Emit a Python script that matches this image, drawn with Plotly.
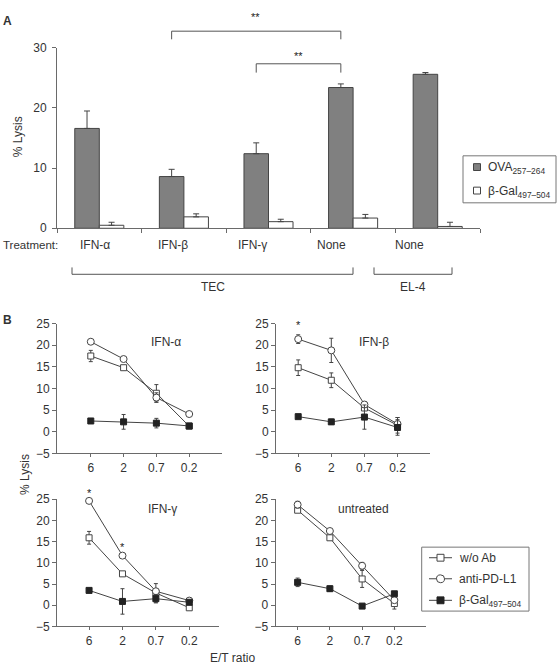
import plotly.graph_objects as go

W, H = 558, 669
FONT = "Liberation Sans, Arial, sans-serif"
TXT = "#333333"
AX = "#6a6a6a"
LN = "#444444"


def px(x):
    return x / W


def py(y):
    return 1 - y / H


# ---------------- Panel A data ----------------
treatments = ["IFN-α", "IFN-β", "IFN-γ", "None", "None"]
ova = [16.6, 8.6, 12.4, 23.4, 25.6]
ova_err = [2.9, 1.2, 1.8, 0.6, 0.3]
gal = [0.5, 1.9, 1.1, 1.7, 0.3]
gal_err = [0.5, 0.5, 0.4, 0.6, 0.7]
a_ticks = [0, 10, 20, 30]

# ---------------- Panel B data ----------------
et_ratio = ["6", "2", "0.7", "0.2"]
b_ticks = [-5, 0, 5, 10, 15, 20, 25]

ifna_woab = [17.5, 14.8, 8.9, 1.3]
ifna_woab_err = [1.3, 0.4, 2.0, 0.2]
ifna_pdl1 = [20.8, 16.8, 7.9, 4.1]
ifna_pdl1_err = [0.3, 0.4, 1.1, 0.2]
ifna_gal = [2.5, 2.3, 2.0, 1.35]
ifna_gal_err = [0.3, 1.7, 1.1, 0.2]

ifnb_woab = [14.8, 11.9, 5.5, 1.5]
ifnb_woab_err = [1.8, 1.7, 0.5, 1.8]
ifnb_pdl1 = [21.4, 18.8, 6.3, 1.8]
ifnb_pdl1_err = [1.0, 2.8, 0.6, 1.5]
ifnb_gal = [3.5, 2.3, 3.4, 1.0]
ifnb_gal_err = [0.2, 0.6, 2.8, 1.8]

ifng_woab = [15.9, 7.4, 2.9, -0.6]
ifng_woab_err = [1.5, 0.2, 2.2, 0.3]
ifng_pdl1 = [24.6, 11.7, 3.3, 1.1]
ifng_pdl1_err = [0.3, 0.3, 0.5, 0.2]
ifng_gal = [3.5, 0.9, 1.55, 0.7]
ifng_gal_err = [0.2, 3.0, 1.0, 0.3]

untr_woab = [22.4, 15.9, 6.2, 0.4]
untr_woab_err = [0.4, 0.3, 2.0, 1.3]
untr_pdl1 = [23.7, 17.5, 9.3, 1.2]
untr_pdl1_err = [0.8, 0.3, 0.8, 0.3]
untr_gal = [5.4, 3.9, -0.2, 2.7]
untr_gal_err = [1.0, 0.6, 0.3, 0.2]

panels = [
    ("IFN-α", ifna_woab, ifna_woab_err, ifna_pdl1, ifna_pdl1_err, ifna_gal, ifna_gal_err),
    ("IFN-β", ifnb_woab, ifnb_woab_err, ifnb_pdl1, ifnb_pdl1_err, ifnb_gal, ifnb_gal_err),
    ("IFN-γ", ifng_woab, ifng_woab_err, ifng_pdl1, ifng_pdl1_err, ifng_gal, ifng_gal_err),
    ("untreated", untr_woab, untr_woab_err, untr_pdl1, untr_pdl1_err, untr_gal, untr_gal_err),
]
# significance stars: (panel index, category index, value where the star sits)
stars = [(1, 0, 25.2), (2, 0, 26.9), (2, 1, 14.3)]

series_names = ["w/o Ab", "anti-PD-L1", "β-Gal<sub>497–504</sub>"]

# ---------------- geometry (pixels) ----------------
A_X = (57, 480)
A_Y = (226, 41.7)
B_GEOM = [
    ((57, 222), (456, 323.3), (-1.03, 4.0), (166, 342)),
    ((276, 430), (456, 323.3), (-0.67, 3.98), (374, 342)),
    ((57, 219), (632.7, 502.7), (-0.96, 3.89), (162, 513)),
    ((275.7, 426), (632.7, 502.7), (-0.68, 3.98), (363, 513)),
]
BARGAP = 0.42

fig = go.Figure()

tickfont = dict(family=FONT, size=12, color=TXT)

# ---------------- Panel A bars ----------------
xa = list(range(len(treatments)))
fig.add_trace(go.Bar(
    x=xa, y=ova, name="OVA", xaxis="x", yaxis="y",
    marker=dict(color="#808080", line=dict(color=LN, width=1)),
    error_y=dict(type="data", array=ova_err, arrayminus=[0] * len(ova), symmetric=False,
                 color=LN, thickness=1, width=3),
    showlegend=False,
))
fig.add_trace(go.Bar(
    x=xa, y=gal, name="β-Gal", xaxis="x", yaxis="y",
    marker=dict(color="white", line=dict(color=LN, width=1)),
    error_y=dict(type="data", array=gal_err, arrayminus=[0] * len(gal), symmetric=False,
                 color=LN, thickness=1, width=3),
    showlegend=False,
))

layout = dict(
    width=W, height=H, autosize=False,
    margin=dict(l=0, r=0, t=0, b=0),
    paper_bgcolor="white", plot_bgcolor="white",
    showlegend=False, barmode="group", bargap=BARGAP, bargroupgap=0,
    font=dict(family=FONT, size=12, color=TXT),
)

layout["xaxis"] = dict(
    domain=[px(A_X[0]), px(A_X[1])], anchor="y",
    range=[-0.5, len(treatments) - 0.5],
    tickvals=[i - 0.5 for i in range(len(treatments) + 1)],
    showticklabels=False, ticks="outside", ticklen=4, tickcolor=AX,
    showline=True, linecolor=AX, linewidth=1, showgrid=False, zeroline=False,
)
layout["yaxis"] = dict(
    domain=[py(A_Y[0]), py(A_Y[1])], anchor="x",
    range=[0, 30], tickvals=a_ticks, ticks="outside", ticklen=4, tickcolor=AX,
    tickfont=tickfont, ticklabelstandoff=3,
    showline=True, linecolor=AX, linewidth=1, showgrid=False, zeroline=False,
)

shapes = []
annotations = []


def ann(text, x, y, size=12, color=TXT, **kw):
    d = dict(text=text, x=px(x), y=py(y), xref="paper", yref="paper",
             showarrow=False, font=dict(family=FONT, size=size, color=color),
             xanchor="center", yanchor="middle")
    d.update(kw)
    annotations.append(d)


def seg(x0, y0, x1, y1, color="#555555"):
    shapes.append(dict(type="line", xref="paper", yref="paper",
                       x0=px(x0), y0=py(y0), x1=px(x1), y1=py(y1),
                       line=dict(color=color, width=1)))


# dark bar centres (pixels) computed from the axis mapping
def ova_center(i):
    off = -(1 - BARGAP) / 4
    return A_X[0] + (i + off + 0.5) / len(treatments) * (A_X[1] - A_X[0])


# significance brackets
for (i0, i1, ytop, ybot, ystar) in [(1, 3, 24.7, 33, 10), (2, 3, 58, 67, 50)]:
    xl, xr = ova_center(i0), ova_center(i1)
    seg(xl, ytop, xr, ytop)
    seg(xl, ytop, xl, ybot)
    seg(xr, ytop, xr, ybot)
    ann("**", (xl + xr) / 2 if i0 == 2 else 255, ystar, size=11, color="#222222")

ann("<b>A</b>", 7.5, 14, size=12)
ann("% Lysis", 18, 133, textangle=-90)

# treatment labels
treat_px = [95, 173, 252, 331, 409]
for t, xp in zip(treatments, treat_px):
    ann(t, xp, 243)
ann("Treatment:", 0.5, 243, size=11.5, xanchor="left")

# group brackets
seg(72, 273, 353, 273); seg(72, 266, 72, 273); seg(353, 266, 353, 273)
seg(374, 273, 452, 273); seg(374, 266, 374, 273); seg(452, 266, 452, 273)
ann("TEC", 213, 286)
ann("EL-4", 413, 286)

# legend A (drawn)
shapes.append(dict(type="rect", xref="paper", yref="paper",
                   x0=px(463), x1=px(556), y0=py(152), y1=py(200),
                   line=dict(color="#777777", width=1)))
for (yc, fill, label) in [(163.5, "#808080", "OVA<sub>257–264</sub>"),
                          (187.5, "white", "β-Gal<sub>497–504</sub>")]:
    shapes.append(dict(type="rect", xref="paper", yref="paper",
                       x0=px(473.5), x1=px(480.5), y0=py(yc + 3.5), y1=py(yc - 3.5),
                       fillcolor=fill, line=dict(color=LN, width=1)))
    ann(label, 486, yc + 1, xanchor="left")

# ---------------- Panel B ----------------
ann("<b>B</b>", 7.5, 320, size=12)
ann("% Lysis", 25, 478, textangle=-90)
ann("E/T ratio", 232, 656, yanchor="top")

styles = [
    dict(symbol="square", size=6, color="white", line=dict(color=LN, width=1)),
    dict(symbol="circle", size=7, color="white", line=dict(color=LN, width=1)),
    dict(symbol="square", size=6, color="#222222", line=dict(color="#222222", width=1)),
]

for k, (title, woab, woab_e, pdl1, pdl1_e, galv, gal_e) in enumerate(panels):
    (xd, yd, xr, tpos) = B_GEOM[k]
    n = k + 2
    xn, yn = f"x{n}", f"y{n}"
    for vals, errs, st, nm in [(woab, woab_e, styles[0], series_names[0]),
                               (pdl1, pdl1_e, styles[1], series_names[1]),
                               (galv, gal_e, styles[2], series_names[2])]:
        fig.add_trace(go.Scatter(
            x=et_ratio, y=vals, name=nm, mode="lines+markers", xaxis=xn, yaxis=yn,
            line=dict(color=LN, width=1), marker=st,
            error_y=dict(type="data", array=errs, color=LN, thickness=1, width=2),
            showlegend=False, cliponaxis=False,
        ))
    layout[f"xaxis{n}"] = dict(
        domain=[px(xd[0]), px(xd[1])], anchor=yn, type="category",
        range=list(xr), ticks="outside", ticklen=3, tickcolor=AX, tickfont=tickfont,
        showline=True, linecolor=AX, linewidth=1, showgrid=False, zeroline=False,
    )
    layout[f"yaxis{n}"] = dict(
        domain=[py(yd[0]), py(yd[1])], anchor=xn,
        range=[-5, 25], tickvals=b_ticks, ticktext=[str(v).replace("-", "−") for v in b_ticks],
        ticks="outside", ticklen=4, tickcolor=AX, tickfont=tickfont,
        showline=True, linecolor=AX, linewidth=1, showgrid=False, zeroline=False,
    )
    ann(title, tpos[0], tpos[1])

# stars in panel B placed via the axis mapping
for (k, ci, v) in stars:
    (xd, yd, xr, _) = B_GEOM[k]
    xp = xd[0] + (ci - xr[0]) / (xr[1] - xr[0]) * (xd[1] - xd[0])
    yp = yd[0] + (v + 5) / 30 * (yd[1] - yd[0])
    ann("*", xp, yp + 2, size=11, color="#222222")

# legend B (drawn)
shapes.append(dict(type="rect", xref="paper", yref="paper",
                   x0=px(421.7), x1=px(529), y0=py(551.7), y1=py(617),
                   line=dict(color="#777777", width=1)))
for yc, st, nm in zip([562.5, 584, 606], styles, series_names):
    seg(429, yc, 452, yc, color=LN)
    if st["symbol"] == "circle":
        shapes.append(dict(type="circle", xref="paper", yref="paper",
                           x0=px(436.5), x1=px(444.5), y0=py(yc + 4), y1=py(yc - 4),
                           fillcolor="white", line=dict(color=LN, width=1)))
    else:
        shapes.append(dict(type="rect", xref="paper", yref="paper",
                           x0=px(437), x1=px(444), y0=py(yc + 3.5), y1=py(yc - 3.5),
                           fillcolor=st["color"], line=dict(color=st["line"]["color"], width=1)))
    ann(nm, 456.5, yc + (1 if "sub" in nm else 0), xanchor="left")

layout["shapes"] = shapes
layout["annotations"] = annotations
fig.update_layout(**layout)
fig.write_html("out.html")
